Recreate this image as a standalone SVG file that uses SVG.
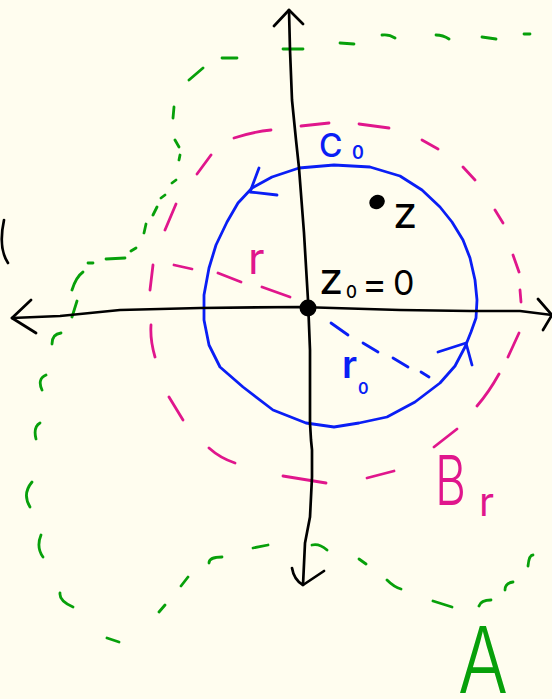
<svg xmlns="http://www.w3.org/2000/svg" width="552" height="699" viewBox="0 0 552 699">
<style>
.ax{fill:none;stroke:#000;stroke-width:2.7;stroke-linecap:round;stroke-linejoin:round}
.bl{fill:none;stroke:#0a1ef5;stroke-width:2.8;stroke-linecap:round;stroke-linejoin:round}
.pk{fill:none;stroke:#e0168c;stroke-width:2.8;stroke-linecap:round;stroke-linejoin:round}
.gr{fill:none;stroke:#07a00a;stroke-width:2.8;stroke-linecap:round;stroke-linejoin:round}
text{font-family:Inter,"DejaVu Sans",sans-serif}
</style>
<rect width="552" height="699" fill="#fffdef"/>
<g id="region-A">
<path class="gr" d="M189 80L203 68M222 58L237 58M283 49L303 49M340 43L354 44M382 35Q389 34 395 38M436 35Q443 35 449 39M482 37L496 39M524 34L530 34"/>
<path class="gr" d="M174 107L173 118M175 140L179 147M180 155L179 160M176 180L172 183M165 195L161 198M157 207L153 215M146 224L144 233M136 248L131 251M125 258L106 259M93 263L88 263M83 272Q76 277 72 290M77 301L72 317M61 333Q52 334 52 344"/>
<path class="gr" d="M46 375Q37 379 42 390M40 423Q33 427 36 439M32 482Q22 494 30 507M41 535Q36 547 43 557M60 593Q59 601 73 607M107 638L119 642"/>
<path class="gr" d="M159 612L165 605M181 586L188 577M209 563Q209 557 222 557M253 548L268 545M312 545Q319 543 327 550M359 559L366 564M387 580Q394 587 401 589M433 601L452 607M479 606Q481 600 491 600M505 590Q505 583 513 582M528 566Q529 555 533 555"/>
<text x="458" y="693" font-size="92" font-weight="300" fill="#07a00a" textLength="50" lengthAdjust="spacingAndGlyphs">A</text>
</g>
<g id="ball-Br">
<path class="pk" d="M234 138Q252 132 271 130M301 126L329 123M359 124L389 128M422 140L438 149M463 167L475 180M495 210L503 223M513 255L519 272M520 290L521 302M519 333L508 357M499 374Q489 392 477 406M457 429L434 447M394 471L367 478M283 476L326 483M235 463Q220 458 209 448M183 420L169 397M155 357Q150 340 151 325M153 265L150 290M176 204L165 230M211 155L197 174"/>
<text x="435" y="505" font-size="69" font-weight="350" fill="#e0168c" textLength="31" lengthAdjust="spacingAndGlyphs">B</text>
<text x="479" y="516" font-size="40" font-weight="400" fill="#e0168c">r</text>
</g>
<g id="radius-r">
<path class="pk" d="M174 265L192 269M218 273L241 282M262 287L290 297"/>
<text x="248" y="274" font-size="44" font-weight="400" fill="#e0168c">r</text>
</g>
<g id="circle-C0">
<path class="bl" d="M299 168L334 165L370 167L400 176L422 190L440 207L452 222L463 240L470 258L475 280L477 300L476 318L471 332L465 347L455 366L440 383L415 402L387 417L359 423L334 427L306 423L273 410L243 387L220 367L209 345L204 320L204 295L209 268L216 245L227 222L238 203L252 188L272 177Z"/>
<path class="bl" d="M259 168L250 192L277 195M438 352L466 343L472 365"/>
<text x="319" y="157" font-size="32" font-weight="500" fill="#0a1ef5">C</text>
<text x="352" y="159" font-size="18" font-weight="600" fill="#0a1ef5">0</text>
</g>
<g id="radius-r0">
<path class="bl" d="M331 323L348 335M363 343L378 352M393 358L408 367M421 372L429 377"/>
<text x="342" y="378" font-size="38" font-weight="600" fill="#0a1ef5">r</text>
<text x="358" y="394" font-size="16" font-weight="600" fill="#0a1ef5">0</text>
</g>
<g id="axes">
<path class="ax" d="M12 318L60 316L120 310L200 308L300 307L400 310L470 311L520 311L552 315"/>
<path class="ax" d="M31 300L12 318L36 333M538 299L552 315L543 330"/>
<path class="ax" d="M289 10L290 50L292 100L296 140L299 168L304 233L308 300L310 350L310 423L311 440L312 450L312 477L310 517L305 543L303 585"/>
<path class="ax" d="M274 26L289 10L303 24M292 568Q294 580 303 585L324 571"/>
<path class="ax" d="M4 220Q-2 248 8 263"/>
</g>
<g id="z0">
<circle cx="308" cy="308" r="8.5" fill="#000"/>
<text x="319" y="294" font-size="44" font-weight="400" fill="#000">z</text>
<text x="346" y="298" font-size="17" font-weight="500" fill="#000">0</text>
<text x="362" y="297" font-size="38" font-weight="400" fill="#000">=</text>
<text x="393" y="295" font-size="34" font-weight="400" fill="#000">0</text>
</g>
<g id="z">
<ellipse cx="377" cy="202" rx="8" ry="7" transform="rotate(-30 377 202)" fill="#000"/>
<text x="393" y="228" font-size="44" font-weight="400" fill="#000">z</text>
</g>
</svg>
